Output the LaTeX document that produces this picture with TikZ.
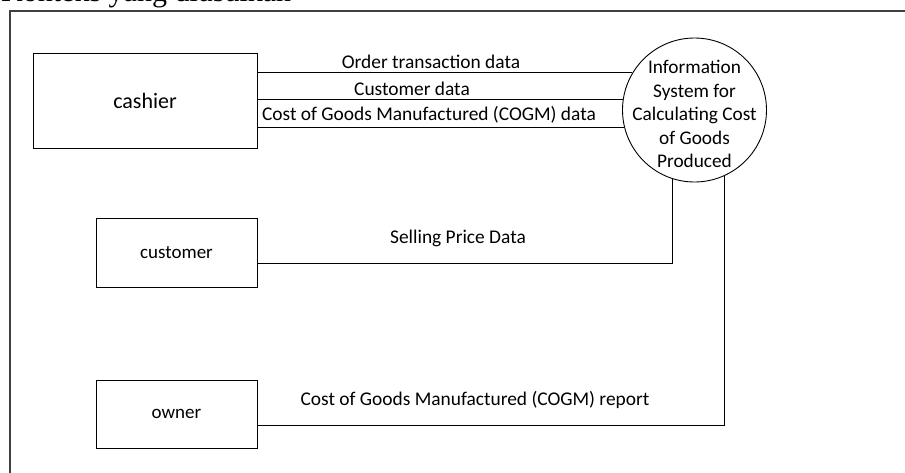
\documentclass[tikz,border=0pt]{standalone}
\usepackage{fontspec}
\setmainfont{Carlito}
\newfontfamily\serifT{Liberation Serif}
\begin{document}
\begin{tikzpicture}[x=1pt,y=-1pt,
  ent/.style={draw, line width=0.9pt, inner sep=0pt},
  flow/.style={draw, line width=0.9pt},
  lbl/.style={anchor=base, inner sep=0pt, font=\fontsize{19.4}{23}\selectfont},
  proc/.style={draw, circle, line width=0.9pt, minimum size=144pt, inner sep=0pt}]
\useasboundingbox (0,0) rectangle (905,472);
% title (cut off at the top)
\node[anchor=base west, inner sep=0pt, font=\serifT\fontsize{30}{36}\selectfont] (title) at (1,1.5) {Konteks yang diusulkan};
% frame
\draw[line width=1.6pt, black!75] (10,480) -- (10,11) -- (915,11);
% entities
\node[ent, minimum width=224pt, minimum height=95pt, font=\fontsize{22}{26}\selectfont] (cashier) at (145,100.5) {cashier};
\node[ent, minimum width=161pt, minimum height=69pt, font=\fontsize{19}{22}\selectfont] (customer) at (176.5,252.5) {customer};
\node[ent, minimum width=161pt, minimum height=68pt, font=\fontsize{19}{22}\selectfont] (owner) at (176.5,414) {owner};
% process
\node[proc, label={[inner sep=0pt, align=center, yshift=-4pt, font=\fontsize{19.3}{23.5}\selectfont]center:{Information\\System for\\Calculating Cost\\of Goods\\Produced}}] (sys) at (694.5,110) {};
% flows
\draw[flow] (sys.149.5) -- (sys.149.5 -| cashier.east);
\draw[flow] (sys.172.8) -- (sys.172.8 -| cashier.east);
\draw[flow] (sys.194.5) -- (sys.194.5 -| cashier.east);
\draw[flow] (sys.252.6) |- ([yshift=-10.5pt]customer.east);
\draw[flow] (sys.294.2) |- ([yshift=-11pt]owner.east);
% labels
\node[lbl] (l1) at (431,68) {Order transaction data};
\node[lbl] (l2) at (412,95) {Customer data};
\node[lbl] (l3) at (429,120.5) {Cost of Goods Manufactured (COGM) data};
\node[lbl] (l4) at (458,243) {Selling Price Data};
\node[lbl] (l5) at (475,405) {Cost of Goods Manufactured (COGM) report};
\end{tikzpicture}
\end{document}
